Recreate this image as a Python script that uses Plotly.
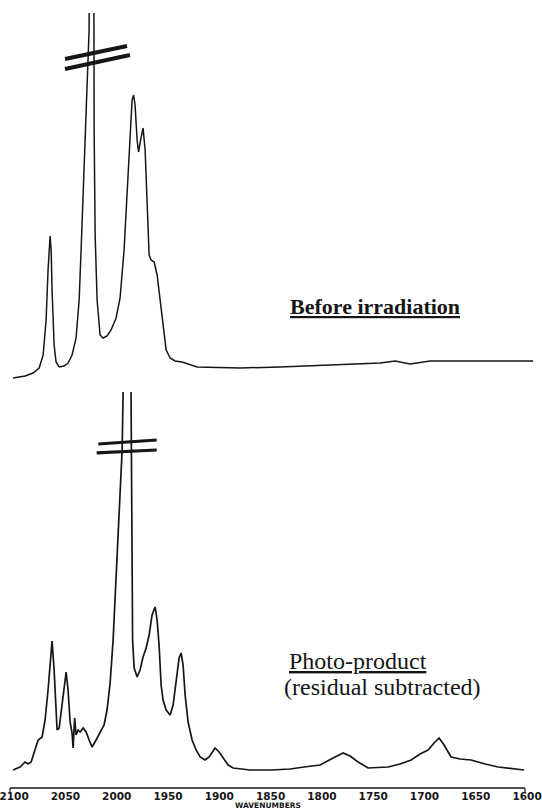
import plotly.graph_objects as go

# ---- data (wavenumbers in cm^-1, absorbance in arbitrary units) ----
before_wn = [2101, 2089.3, 2081.5, 2075.6, 2071.7, 2068.8, 2066.9, 2064.9, 2063.9, 2063.0,
             2061.0, 2059.1, 2056.1, 2051.3, 2047.4, 2043.5, 2039.6, 2036.6, 2034.7, 2032.7,
             2029.8, 2027.9, 2026.9, 2024.5, 2022.5, 2022.0, 2021.0, 2019.1, 2016.2, 2013.3,
             2009.4, 2005.5, 2000.6, 1996.7, 1992.8, 1989.9, 1986.9, 1985.0, 1983.5, 1982.1,
             1980.1, 1978.7, 1976.7, 1974.3, 1972.3, 1970.4, 1968.4, 1966.5, 1963.5, 1960.6,
             1957.7, 1954.8, 1951.8, 1947.9, 1943.1, 1936.3, 1928.5, 1921.6, 1879.7, 1840.7,
             1792.0, 1743.3, 1728.6, 1714.0, 1694.5, 1645.8, 1594.1]
before_abs = [0.0, 0.01, 0.025, 0.05, 0.115, 0.29, 0.54, 0.71, 0.64, 0.44,
              0.165, 0.08, 0.055, 0.06, 0.075, 0.115, 0.20, 0.39, 0.64, 0.94,
              1.34, 1.64, 1.74, 9.0, 1.74, 1.24, 0.715, 0.39, 0.215, 0.20,
              0.21, 0.24, 0.30, 0.40, 0.64, 0.94, 1.265, 1.39, 1.415, 1.365,
              1.19, 1.13, 1.19, 1.25, 1.14, 0.84, 0.615, 0.59, 0.58, 0.515,
              0.39, 0.24, 0.14, 0.10, 0.085, 0.08, 0.065, 0.055, 0.05, 0.055,
              0.065, 0.075, 0.085, 0.07, 0.085, 0.085, 0.085]

photo_wn = [2101, 2094.2, 2089.3, 2086.4, 2083.4, 2079.5, 2076.6, 2072.7, 2069.8, 2066.9,
            2064.9, 2063.0, 2061.0, 2059.1, 2058.1, 2056.1, 2053.2, 2051.3, 2049.3, 2047.4,
            2045.4, 2043.5, 2042.5, 2041.0, 2039.6, 2037.6, 2035.7, 2032.7, 2029.8, 2026.9,
            2024.0, 2020.1, 2016.2, 2012.3, 2009.4, 2006.4, 2003.5, 2001.6, 1998.6, 1996.7,
            1994.7, 1993.8, 1989.9, 1986.0, 1985.5, 1984.5, 1983.0, 1980.1, 1977.2, 1974.3,
            1971.3, 1968.4, 1965.5, 1962.6, 1960.6, 1958.7, 1956.7, 1954.8, 1951.8, 1947.9,
            1945.0, 1942.1, 1939.2, 1937.2, 1935.3, 1933.3, 1930.4, 1926.5, 1922.6, 1918.7,
            1913.8, 1909.9, 1904.1, 1900.2, 1896.3, 1891.4, 1886.5, 1870.0, 1849.5, 1831.0,
            1817.3, 1801.7, 1789.1, 1779.3, 1772.5, 1764.7, 1755.0, 1735.5, 1723.8, 1713.0,
            1704.3, 1696.5, 1690.6, 1685.8, 1680.9, 1674.1, 1665.3, 1654.6, 1640.9, 1628.2,
            1602.9]
photo_abs = [0.0, 0.015, 0.04, 0.03, 0.04, 0.11, 0.15, 0.165, 0.25, 0.40,
             0.55, 0.645, 0.50, 0.275, 0.20, 0.21, 0.325, 0.425, 0.49, 0.40,
             0.24, 0.185, 0.11, 0.26, 0.175, 0.20, 0.19, 0.21, 0.19, 0.15,
             0.115, 0.15, 0.185, 0.225, 0.30, 0.435, 0.65, 0.85, 1.15, 1.385,
             1.60, 1.875, 12.0, 1.875, 1.25, 0.65, 0.51, 0.465, 0.50, 0.565,
             0.61, 0.675, 0.775, 0.815, 0.75, 0.625, 0.425, 0.35, 0.30, 0.275,
             0.325, 0.45, 0.56, 0.585, 0.525, 0.375, 0.24, 0.15, 0.10, 0.065,
             0.05, 0.065, 0.11, 0.09, 0.06, 0.025, 0.01, 0.0, 0.0, 0.005,
             0.015, 0.025, 0.06, 0.085, 0.07, 0.04, 0.01, 0.015, 0.03, 0.05,
             0.08, 0.10, 0.135, 0.16, 0.125, 0.065, 0.055, 0.05, 0.03, 0.015,
             0.0]

tick_vals = [2100, 2050, 2000, 1950, 1900, 1850, 1800, 1750, 1700, 1650, 1600]
tick_text = ["2100", "2050", "2000", "1950", "1900", "1850", "1800", "1750", "1700", "1650", "1600"]

label_before = "Before irradiation"
label_photo = "Photo-product"
label_photo_sub = "(residual subtracted)"
x_title = "WAVENUMBERS"

INK = "#161616"

fig = go.Figure()
fig.add_trace(go.Scatter(x=before_wn, y=before_abs, xaxis="x", yaxis="y2", mode="lines",
                         line=dict(color=INK, width=1.5), hoverinfo="skip", showlegend=False))
fig.add_trace(go.Scatter(x=photo_wn, y=photo_abs, xaxis="x", yaxis="y", mode="lines",
                         line=dict(color=INK, width=1.7), hoverinfo="skip", showlegend=False))

fig.update_layout(
    width=542, height=811,
    margin=dict(l=10, r=6, t=13, b=23, autoexpand=False),
    paper_bgcolor="white", plot_bgcolor="white",
    xaxis=dict(range=[2104, 1591.3], tickvals=tick_vals, ticktext=tick_text,
               showgrid=False, zeroline=False, showline=False, ticks="", automargin=False,
               ticklabeloverflow="allow",
               tickfont=dict(family="DejaVu Sans", size=10.5, color=INK, weight="bold"),
               anchor="y"),
    yaxis=dict(domain=[0, 0.511], range=[-0.09, 1.89], visible=False, automargin=False),
    yaxis2=dict(domain=[0.52, 1.0], range=[-0.035, 1.825], visible=False, anchor="x",
                automargin=False),
)

# baseline axis line and end ticks
fig.add_shape(type="line", xref="paper", yref="paper", x0=0.0, x1=0.979, y0=0.0, y1=0.0,
              line=dict(color=INK, width=1.6))
fig.add_shape(type="line", xref="paper", yref="paper", x0=0.0, x1=0.0, y0=0.0, y1=-0.005,
              line=dict(color=INK, width=1.2))
fig.add_shape(type="line", xref="paper", yref="paper", x0=0.979, x1=0.979, y0=0.0, y1=-0.005,
              line=dict(color=INK, width=1.2))

# break marks on the off-scale peaks
for (x0, y0, x1, y1, w) in [(0.1046, 0.9406, 0.2224, 0.9574, 4),
                            (0.1046, 0.9277, 0.2281, 0.9458, 4),
                            (0.1679, 0.4439, 0.2789, 0.4490, 3.2),
                            (0.1648, 0.4323, 0.2789, 0.4361, 3.2)]:
    fig.add_shape(type="line", xref="paper", yref="paper", x0=x0, y0=y0, x1=x1, y1=y1,
                  line=dict(color=INK, width=w))

fig.add_annotation(xref="paper", yref="paper", x=0.5285, y=0.6219, xanchor="left", yanchor="middle",
                   text="<u>" + label_before + "</u>", showarrow=False,
                   font=dict(family="Liberation Serif", size=22, color=INK, weight="bold"))
fig.add_annotation(xref="paper", yref="paper", x=0.5266, y=0.1633, xanchor="left", yanchor="middle",
                   text="<u>" + label_photo + "</u>", showarrow=False,
                   font=dict(family="Liberation Serif", size=24, color=INK))
fig.add_annotation(xref="paper", yref="paper", x=0.5171, y=0.1300, xanchor="left", yanchor="middle",
                   text=label_photo_sub, showarrow=False,
                   font=dict(family="Liberation Serif", size=24, color=INK))
fig.add_annotation(xref="paper", yref="paper", x=0.490, y=-0.0297, xanchor="center", yanchor="bottom",
                   text=x_title, showarrow=False, borderpad=0,
                   font=dict(family="DejaVu Sans", size=7.5, color=INK, weight="bold"))

fig.write_html("out.html", config={"displayModeBar": False},
               post_script="document.body.style.margin='0px';document.body.style.overflow='hidden';")
